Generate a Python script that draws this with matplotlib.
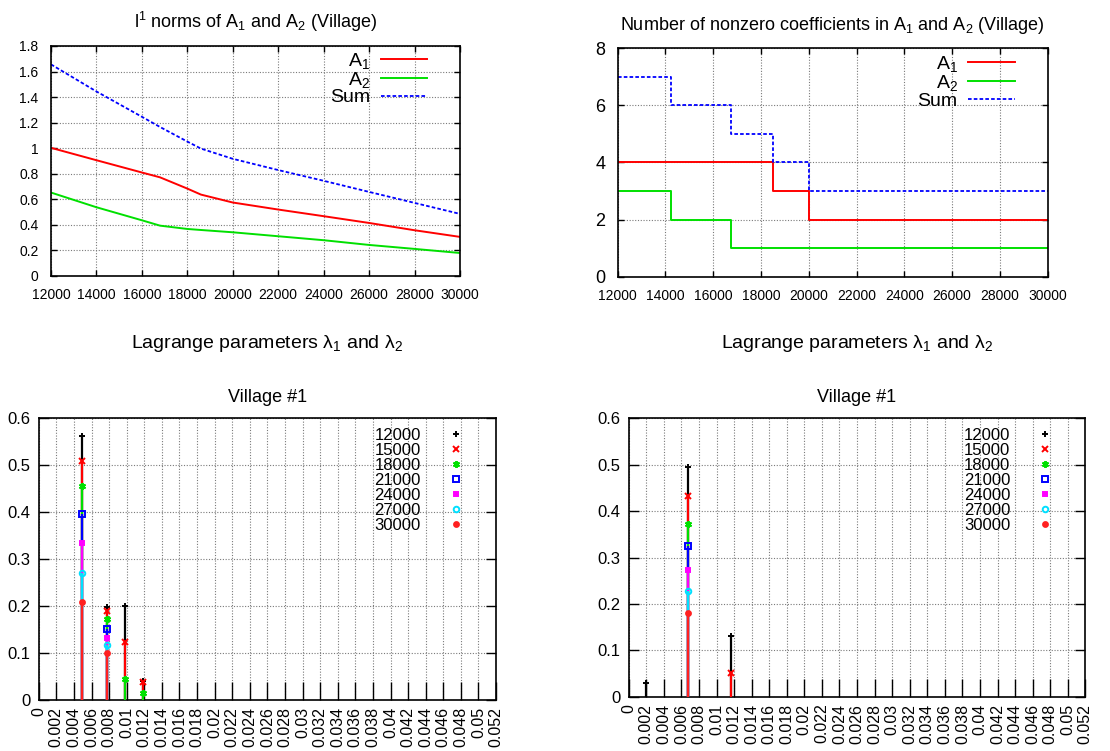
import matplotlib
matplotlib.use("Agg")
import matplotlib.pyplot as plt
from matplotlib.ticker import MultipleLocator, FormatStrFormatter
import numpy as np

plt.rcParams['font.family'] = ['Liberation Sans', 'DejaVu Sans']
plt.rcParams['mathtext.default'] = 'regular'

# l1 norms (top left)
norm_x = [12000, 14000, 16000, 16800, 18000, 18600, 20000, 22000, 24000, 26000, 28000, 30000]
norm_a1 = [1.003, 0.906, 0.81, 0.772, 0.684, 0.637, 0.575, 0.52, 0.468, 0.415, 0.358, 0.306]
norm_a2 = [0.653, 0.538, 0.436, 0.394, 0.368, 0.36, 0.342, 0.311, 0.28, 0.243, 0.212, 0.18]
norm_sum = [1.656, 1.444, 1.246, 1.166, 1.052, 0.997, 0.917, 0.829, 0.745, 0.658, 0.572, 0.486]

# nonzero coefficients (top right), step changes
nnz_x = [12000, 14250, 16750, 18500, 20000, 30000]
nnz_a1 = [4, 4, 4, 3, 2, 2]
nnz_a2 = [3, 2, 1, 1, 1, 1]
nnz_sum = [7, 6, 5, 4, 3, 3]

# Lagrange parameters (bottom), one row per budget
budgets = ['12000', '15000', '18000', '21000', '24000', '27000', '30000']
lam1_x = [0.0049, 0.0078, 0.0098, 0.0118]
lam1_vals = [
    [0.563, 0.199, 0.201, 0.041],
    [0.509, 0.189, 0.124, 0.038],
    [0.455, 0.173, 0.044, 0.014],
    [0.397, 0.151, 0.0, 0.0],
    [0.334, 0.133, 0.0, 0.0],
    [0.270, 0.117, 0.0, 0.0],
    [0.208, 0.100, 0.0, 0.0],
]
lam2_x = [0.002, 0.0068, 0.0117]
lam2_vals = [
    [0.029, 0.496, 0.130],
    [0.0, 0.432, 0.052],
    [0.0, 0.372, 0.0],
    [0.0, 0.325, 0.0],
    [0.0, 0.274, 0.0],
    [0.0, 0.228, 0.0],
    [0.0, 0.180, 0.0],
]

series_colors = ['black', '#ff0000', '#00e000', '#0000ff', '#ff00ff', '#00e0ff', '#ff2020']
series_markers = ['+', 'x', (6, 2, 0), 's', 's', 'o', 'o']
series_filled = [True, True, True, False, True, False, True]
series_sizes = [5, 5, 5, 4.5, 3.5, 4, 3.5]

grid_kw = dict(color='#7a7a7a', linestyle=(0, (1, 1.5)), linewidth=0.8)

fig = plt.figure(figsize=(11.1, 7.51), dpi=100)


def frame(ax):
    ax.grid(True, **grid_kw)
    ax.set_axisbelow(True)
    for s in ax.spines.values():
        s.set_linewidth(1.2)
    ax.tick_params(direction='in', top=True, right=True, length=4, width=1)


# ---- top left
ax1 = fig.add_axes([0.0459, 0.6325, 0.3685, 0.3063])
ax1.plot(norm_x, norm_a1, color='#ff0000', lw=1.4, label='A$_1$')
ax1.plot(norm_x, norm_a2, color='#00e000', lw=1.4, label='A$_2$')
ax1.plot(norm_x, norm_sum, color='#0000ff', lw=1.3, ls=(0, (2, 1.2)), label='Sum')
ax1.set_xlim(12000, 30000)
ax1.set_ylim(0, 1.8)
ax1.xaxis.set_major_locator(MultipleLocator(2000))
ax1.yaxis.set_major_locator(MultipleLocator(0.2))
ax1.yaxis.set_major_formatter(FormatStrFormatter('%g'))
frame(ax1)
ax1.tick_params(labelsize=10, pad=9)
ax1.set_title('l$^1$ norms of A$_1$ and A$_2$ (Village)', fontsize=13, pad=13)
ax1.legend(loc='upper right', bbox_to_anchor=(0.949, 1.03), frameon=False, markerfirst=False,
           fontsize=14, handlelength=2.4, handletextpad=0.55, labelspacing=-0.05, borderaxespad=0.2)

# ---- top right
ax2 = fig.add_axes([0.5565, 0.6316, 0.3874, 0.3041])
ax2.plot(nnz_x, nnz_a1, color='#ff0000', lw=1.4, drawstyle='steps-post', label='A$_1$')
ax2.plot(nnz_x, nnz_a2, color='#00e000', lw=1.4, drawstyle='steps-post', label='A$_2$')
ax2.plot(nnz_x, nnz_sum, color='#0000ff', lw=1.3, ls=(0, (2, 1.2)), drawstyle='steps-post', label='Sum')
ax2.set_xlim(12000, 30000)
ax2.set_ylim(0, 8)
ax2.xaxis.set_major_locator(MultipleLocator(2000))
ax2.yaxis.set_major_locator(MultipleLocator(2))
frame(ax2)
ax2.tick_params(axis='x', labelsize=10, pad=9)
ax2.tick_params(axis='y', labelsize=13, pad=9)
ax2.set_title('Number of nonzero coefficients in A$_1$ and A$_2$ (Village)', fontsize=13, pad=13)
ax2.legend(loc='upper right', bbox_to_anchor=(0.951, 1.025), frameon=False, markerfirst=False,
           fontsize=14, handlelength=2.4, handletextpad=0.55, labelspacing=-0.05, borderaxespad=0.2)


# ---- bottom impulses
def lagrange_panel(rect, xs, vals):
    ax = fig.add_axes(rect)
    for i, row in enumerate(vals):
        c = series_colors[i]
        px = [x for x, v in zip(xs, row) if v > 0]
        py = [v for v in row if v > 0]
        ax.vlines(px, 0, py, color=c, lw=1.6, zorder=2 + i)
        mfc = c if series_filled[i] else 'none'
        ax.plot(px, py, ls='none', marker=series_markers[i], color=c, mfc=mfc,
                ms=series_sizes[i], mew=1.4, zorder=2 + i, label=budgets[i])
    ax.set_xlim(0, 0.052)
    ax.set_ylim(0, 0.6)
    ax.set_xticks(np.arange(0, 0.0521, 0.002))
    ax.xaxis.set_major_formatter(FormatStrFormatter('%g'))
    ax.yaxis.set_major_locator(MultipleLocator(0.1))
    ax.yaxis.set_major_formatter(FormatStrFormatter('%g'))
    frame(ax)
    ax.tick_params(axis='x', length=13, top=False, labelsize=11.5, labelrotation=90, pad=5)
    ax.tick_params(axis='y', length=7, labelsize=12, pad=6)
    ax.set_title('Village #1', fontsize=13, pad=12)
    ax.legend(loc='upper right', bbox_to_anchor=(0.945, 0.99), frameon=False, markerfirst=False,
              fontsize=12, handlelength=1.0, handletextpad=1.6, labelspacing=0.0,
              borderaxespad=0.0)
    return ax


ax3 = lagrange_panel([0.0349, 0.0679, 0.412, 0.3751], lam1_x, lam1_vals)
ax4 = lagrange_panel([0.5664, 0.0723, 0.4114, 0.3707], lam2_x, lam2_vals)

for ax in (ax3, ax4):
    pos = ax.get_position()
    fig.text((pos.x0 + pos.x1) / 2, 1 - 348 / 751, r'Lagrange parameters $\lambda_1$ and $\lambda_2$',
             ha='center', va='baseline', fontsize=14)

fig.savefig('out.png', dpi=100)
